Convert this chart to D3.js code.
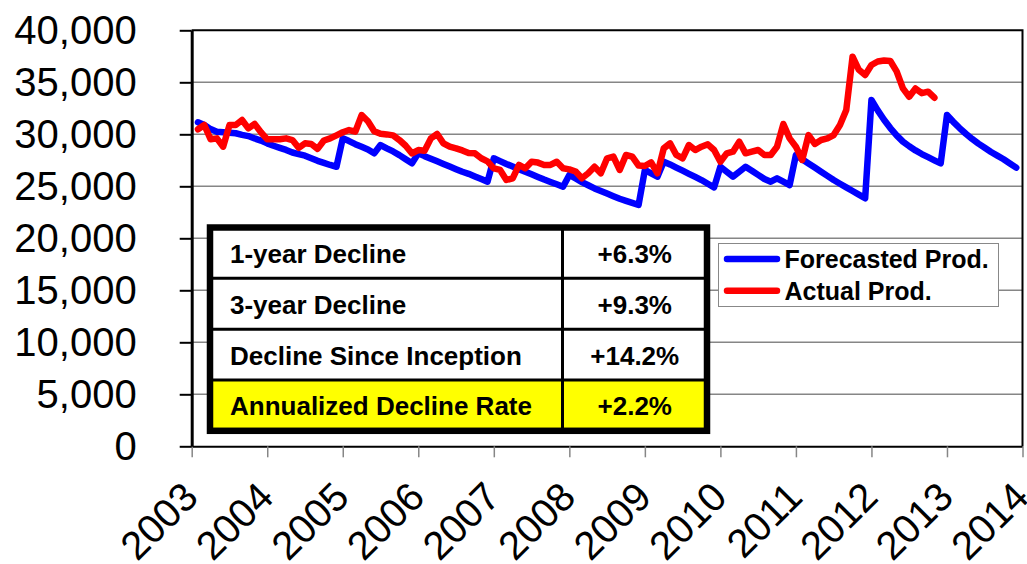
<!DOCTYPE html>
<html>
<head>
<meta charset="utf-8">
<script src="https://cdn.jsdelivr.net/npm/d3@7"></script>
<style>
  body { margin: 0; background: #fff; }
  svg { display: block; font-family: "Liberation Sans", Arial, sans-serif; }
</style>
</head>
<body>
<div id="chart"></div>
<script>
const yearTicks = [2003, 2004, 2005, 2006, 2007, 2008, 2009, 2010, 2011, 2012, 2013, 2014];
const valueTicks = [0, 5000, 10000, 15000, 20000, 25000, 30000, 35000, 40000];

// monthly, Feb 2003 .. Dec 2013
const forecast = [
  31150, 30900, 30500, 30250, 30200, 30150, 30100, 29950, 29830, 29600, 29400,
  29130, 28900, 28700, 28500, 28250, 28100, 27940, 27700, 27450, 27250, 27050, 26880,
  29610, 29350, 29050, 28800, 28550, 28170, 28970, 28650, 28350, 28000, 27600, 27210,
  28170, 27900, 27650, 27400, 27150, 26900, 26650, 26400, 26200, 25950, 25700, 25440,
  27690, 27420, 27150, 26900, 26650, 26400, 26150, 25900, 25650, 25420, 25190, 24960,
  26090, 25750, 25400, 25100, 24800, 24550, 24300, 24050, 23800, 23600, 23400, 23200,
  26570, 26250, 25930, 27360, 27100, 26800, 26500, 26200, 25900, 25600, 25250, 24900,
  26880, 26400, 25930, 26400, 26880, 26500, 26100, 25700, 25440, 25770, 25450, 25120,
  28010, 27600, 27200, 26800, 26400, 26000, 25600, 25250, 24900, 24550, 24200, 23850,
  33300, 32300, 31400, 30600, 29900, 29300, 28850, 28450, 28100, 27800, 27500, 27210,
  31850, 31200, 30600, 30050, 29550, 29100, 28700, 28300, 27950, 27600, 27200, 26790
];

// monthly, Feb 2003 .. Nov 2012
const actual = [
  30480, 30890, 29520, 29610, 28810, 30890, 30890, 31370, 30570, 30990, 30200,
  29520, 29520, 29520, 29610, 29450, 28700, 29130, 29070, 28600, 29400, 29610, 29900,
  30200, 30410, 30250, 31850, 31250, 30300, 30050, 29990, 29900, 29450, 28900, 28170,
  28490, 28420, 29610, 30030, 29130, 28810, 28650, 28450, 28200, 28170, 27700, 27400,
  26730, 26570, 25610, 25770, 27050, 26730, 27360, 27280, 27050, 27050, 27360, 26730,
  26630, 26420, 25770, 26250, 26880, 26250, 27690, 27850, 26570, 28010, 27850, 27000,
  26950, 27300, 26250, 28650, 29130, 28010, 27690, 28970, 28490, 28810, 29040, 28490,
  27360, 28170, 28330, 29290, 28170, 28330, 28490, 28010, 28010, 28810, 30990, 29610,
  28810, 27530, 29930, 29070, 29450, 29600, 29930, 30900, 32340, 37460, 36200, 35700,
  36660, 37000, 37100, 37050, 36050, 34420, 33610, 34400, 33950, 34100, 33520
];

const statLabels = ["1-year Decline", "3-year Decline", "Decline Since Inception", "Annualized Decline Rate"];
const statValues = ["+6.3%", "+9.3%", "+14.2%", "+2.2%"];

const seriesNames = ["Forecasted Prod.", "Actual Prod."];
const seriesColors = ["#0000ff", "#ff0000"];

const width = 1027;
const height = 564;
const plot = { left: 191.7, right: 1022.5, top: 30.3, bottom: 446.3 };
const font = "'Liberation Sans', Arial, sans-serif";

// month index -> decimal year, series start in February 2003
const monthYear = (i) => 2003 + (i + 1) / 12;

const x = d3.scaleLinear().domain([2003, 2014]).range([plot.left, plot.right]);
const y = d3.scaleLinear().domain([0, 40000]).range([plot.bottom, plot.top]);

const svg = d3.select("#chart").append("svg")
  .attr("width", width)
  .attr("height", height);

// gridlines
svg.append("g")
  .selectAll("line")
  .data(valueTicks.filter((d) => d > 0 && d < 40000))
  .join("line")
  .attr("x1", plot.left)
  .attr("x2", plot.right)
  .attr("y1", (d) => y(d))
  .attr("y2", (d) => y(d))
  .attr("stroke", "#868686")
  .attr("stroke-width", 1.5);

// top and right frame
svg.append("path")
  .attr("d", `M${plot.left},${plot.top}H${plot.right}V${plot.bottom}`)
  .attr("fill", "none")
  .attr("stroke", "#000")
  .attr("stroke-width", 2);

// x axis
const xAxis = svg.append("g")
  .attr("transform", `translate(0,${plot.bottom})`)
  .call(d3.axisBottom(x).tickValues(yearTicks).tickSize(11).tickSizeOuter(0).tickFormat(d3.format("d")))
  .attr("font-family", font);
xAxis.select(".domain").attr("stroke", "#000").attr("stroke-width", 2);
xAxis.selectAll(".tick line").attr("stroke", "#868686").attr("stroke-width", 1.5);
xAxis.selectAll(".tick text")
  .attr("x", 0)
  .attr("y", 0)
  .attr("dy", 0)
  .attr("transform", "translate(8,53) rotate(-45)")
  .style("text-anchor", "end")
  .style("font-size", "40px")
  .attr("fill", "#000");

// y axis
const yAxis = svg.append("g")
  .attr("transform", `translate(${plot.left},0)`)
  .call(d3.axisLeft(y).tickValues(valueTicks).tickSize(12).tickPadding(43).tickSizeOuter(0).tickFormat(d3.format(",")))
  .attr("font-family", font);
yAxis.select(".domain").attr("stroke", "#000").attr("stroke-width", 3);
yAxis.selectAll(".tick line").attr("stroke", "#000").attr("stroke-width", 2);
yAxis.selectAll(".tick text")
  .style("font-size", "40px")
  .attr("fill", "#000");

// lines
const line = d3.line()
  .x((d, i) => x(monthYear(i)))
  .y((d) => y(d))
  .curve(d3.curveLinear);

svg.append("g")
  .selectAll("path")
  .data([forecast, actual])
  .join("path")
  .attr("d", line)
  .attr("fill", "none")
  .attr("stroke", (d, i) => seriesColors[i])
  .attr("stroke-width", 6.5)
  .attr("stroke-linejoin", "round")
  .attr("stroke-linecap", "round");

// stats table
const table = { left: 210, right: 707, top: 227.5, bottom: 430.8, split: 562.5 };
const rowScale = d3.scaleBand().domain(statLabels).range([table.top, table.bottom]);
const tableG = svg.append("g");

tableG.append("rect")
  .attr("x", table.left)
  .attr("y", table.top)
  .attr("width", table.right - table.left)
  .attr("height", table.bottom - table.top)
  .attr("fill", "#fff");

tableG.selectAll(".hl")
  .data(statLabels.slice(-1))
  .join("rect")
  .attr("class", "hl")
  .attr("x", table.left)
  .attr("y", (d) => rowScale(d))
  .attr("width", table.right - table.left)
  .attr("height", table.bottom - rowScale(statLabels[statLabels.length - 1]))
  .attr("fill", "#ffff00");

tableG.selectAll(".sep")
  .data(statLabels.slice(1))
  .join("line")
  .attr("class", "sep")
  .attr("x1", table.left)
  .attr("x2", table.right)
  .attr("y1", (d) => rowScale(d))
  .attr("y2", (d) => rowScale(d))
  .attr("stroke", "#000")
  .attr("stroke-width", 3);

tableG.append("line")
  .attr("x1", table.split)
  .attr("x2", table.split)
  .attr("y1", table.top)
  .attr("y2", table.bottom)
  .attr("stroke", "#000")
  .attr("stroke-width", 3);

tableG.append("rect")
  .attr("x", table.left)
  .attr("y", table.top)
  .attr("width", table.right - table.left)
  .attr("height", table.bottom - table.top)
  .attr("fill", "none")
  .attr("stroke", "#000")
  .attr("stroke-width", 6.5);

tableG.selectAll(".lbl")
  .data(statLabels)
  .join("text")
  .attr("class", "lbl")
  .attr("x", 230)
  .attr("y", (d) => rowScale(d) + 35.5)
  .style("font-size", "26px")
  .style("font-weight", "bold")
  .text((d) => d);

tableG.selectAll(".val")
  .data(statValues)
  .join("text")
  .attr("class", "val")
  .attr("x", (table.split + table.right) / 2)
  .attr("y", (d, i) => rowScale(statLabels[i]) + 35.5)
  .attr("text-anchor", "middle")
  .style("font-size", "26px")
  .style("font-weight", "bold")
  .text((d) => d);

// legend
const legend = svg.append("g").attr("transform", "translate(718.5,243.5)");
legend.append("rect")
  .attr("width", 280)
  .attr("height", 63)
  .attr("fill", "#fff")
  .attr("stroke", "#888")
  .attr("stroke-width", 1);

const legendRows = legend.selectAll(".lr")
  .data(seriesNames)
  .join("g")
  .attr("class", "lr")
  .attr("transform", (d, i) => `translate(0,${15.5 + i * 31.7})`);

legendRows.append("line")
  .attr("x1", 8.5)
  .attr("x2", 58.5)
  .attr("stroke", (d, i) => seriesColors[i])
  .attr("stroke-width", 6.5)
  .attr("stroke-linecap", "round");

legendRows.append("text")
  .attr("x", 66)
  .attr("y", 9)
  .style("font-size", "25px")
  .style("font-weight", "bold")
  .text((d) => d);
</script>
</body>
</html>
